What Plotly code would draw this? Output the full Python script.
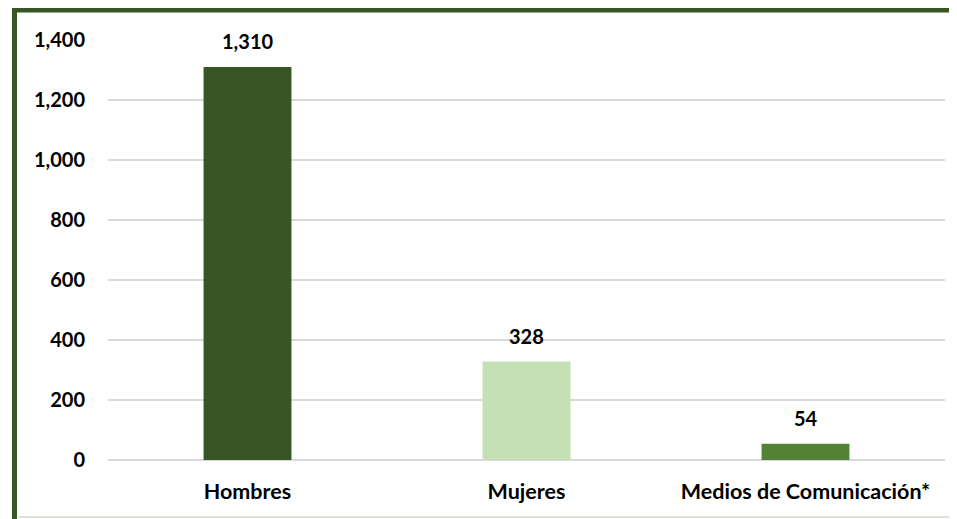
import plotly.graph_objects as go

categories = ["Hombres", "Mujeres", "Medios de Comunicación*"]
values = [1310, 328, 54]
value_labels = ["1,310", "328", "54"]
colors = ["#375623", "#C5E0B4", "#548235"]
y_ticks = [0, 200, 400, 600, 800, 1000, 1200, 1400]
y_tick_labels = ["0", "200", "400", "600", "800", "1,000", "1,200", "1,400"]

FONT = "Lato"
FS = 20

fig = go.Figure()
fig.add_trace(go.Bar(
    x=categories, y=values, marker=dict(color=colors, line=dict(width=0)),
    width=0.315, hoverinfo="skip",
))

for c, v, t in zip(categories, values, value_labels):
    fig.add_annotation(x=c, y=v, text=f"<b>{t}</b>", showarrow=False,
                       yanchor="bottom", yshift=12,
                       font=dict(family=FONT, size=FS, color="#000000"))

# page body has an 8px default margin, so margins are compensated
fig.update_layout(
    width=957, height=519,
    margin=dict(l=100, r=20, t=32, b=67),
    paper_bgcolor="white", plot_bgcolor="white",
    showlegend=False,
    font=dict(family=FONT, size=FS, color="#000000"),
    xaxis=dict(showgrid=False, showline=False, ticks="",
               tickfont=dict(family=FONT, size=21.5, color="#000000"),
               ticklabelstandoff=16,
               tickvals=categories,
               ticktext=[f"<b>{c}</b>" for c in categories]),
    yaxis=dict(range=[0, 1400], tickvals=y_ticks,
               ticktext=[f"<b>{t}</b>" for t in y_tick_labels],
               showgrid=True, gridcolor="#D9D9D9", gridwidth=1.5,
               zeroline=True, zerolinecolor="#D9D9D9", zerolinewidth=1.5,
               showline=False, ticks="", ticklabelstandoff=22,
               tickfont=dict(family=FONT, size=FS, color="#000000")),
)

# outer chart border (dark green top & left)
fig.add_shape(type="line", xref="paper", yref="paper",
              x0=-0.1117, x1=1.05, y0=1.0714, y1=1.0714,
              line=dict(color="#375623", width=5))
fig.add_shape(type="line", xref="paper", yref="paper",
              x0=-0.1117, x1=-0.1117, y0=-0.25, y1=1.0774,
              line=dict(color="#375623", width=5))
# faint bottom line
fig.add_shape(type="line", xref="paper", yref="paper",
              x0=-0.107, x1=1.05, y0=-0.1357, y1=-0.1357,
              line=dict(color="#E0E0D8", width=2))

fig.write_html("out.html")
